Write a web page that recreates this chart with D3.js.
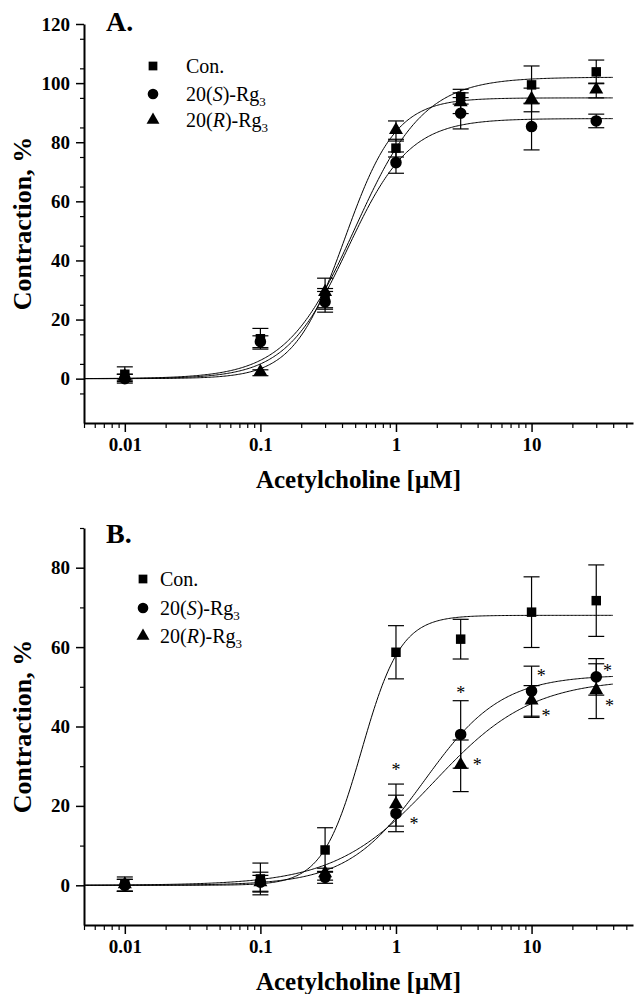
<!DOCTYPE html>
<html>
<head>
<meta charset="utf-8">
<script src="https://cdn.jsdelivr.net/npm/d3@7"></script>
<style>
  body { margin: 0; background: #fff; }
  svg { display: block; }
</style>
</head>
<body>
<svg id="chart" width="635" height="994" font-family="Liberation Serif"></svg>
<script>
"use strict";

var FONT = "Liberation Serif";

// doses, uM
var doses = [0.01, 0.1, 0.3, 1, 3, 10, 30];
var xTickValues = [0.01, 0.1, 1, 10];
var xTickLabels = ["0.01", "0.1", "1", "10"];

// panel A
var conA    = [1.5, 13.5, 27, 78, 95.4, 99.4, 103.8];
var conAErr = [2.5, 3.5, 3.5, 3, 2.5, 6.4, 4];
var sA      = [0, 12.5, 26, 73.1, 89.8, 85.3, 87.2];
var sAErr   = [1.5, 2, 3.5, 3.6, 5.3, 7.9, 2.3];
var rA      = [0.5, 2, 29, 83.8, 93.2, 94.3, 97.5];
var rAErr   = [1, 1, 5, 3.4, 3.5, 4, 2.5];
// fitted curves: [top, EC50, hill]
var conAFit = [102, 0.50, 1.7];
var sAFit   = [88, 0.44, 1.9];
var rAFit   = [95, 0.42, 2.3];
var yTicksA = [0, 20, 40, 60, 80, 100, 120];

// panel B
var conB    = [0.3, 1.6, 8.9, 58.7, 62, 68.8, 71.7];
var conBErr = [1.8, 4, 5.6, 6.7, 5, 8.9, 9];
var sB      = [0, 0.8, 2, 18.1, 38, 48.9, 52.5];
var sBErr   = [1.5, 2.5, 1.5, 4.6, 8.5, 6.3, 4.6];
var rB      = [0, 0.5, 2.8, 20.2, 30.1, 46.3, 48.9];
var rBErr   = [1.5, 2, 1.5, 5.3, 6.5, 4, 6.9];
var conBFit = [68, 0.558, 3.0];
var sBFit   = [53, 1.63, 1.53];
var rBFit   = [52, 1.9, 1.2];
var yTicksB = [0, 20, 40, 60, 80];
// significance marks (*), in data units
var sigX = [1, 1.36, 3, 3.97, 11.8, 12.8, 36.3, 37.5];
var sigY = [29.8, 16.2, 49.2, 31, 53.4, 43.4, 54.7, 46];

var svg = d3.select("#chart");

var x = d3.scaleLog().domain([0.005, 56]).range([84, 633]);

var minorX = [];
[0.001, 0.01, 0.1, 1, 10].forEach(function(dec) {
  for (var k = 2; k <= 9; k++) {
    var v = +(dec * k).toPrecision(3);
    if (v >= 0.005 && v <= 56) minorX.push(v);
  }
});

function hill(p) {
  return function(c) { return p[0] / (1 + Math.pow(p[1] / c, p[2])); };
}

function drawPanel(opt) {
  var y = d3.scaleLinear().domain(opt.yDomain).range([opt.bottom, opt.top]);
  var g = svg.append("g");

  // minor ticks
  g.append("g")
    .attr("transform", "translate(0," + opt.bottom + ")")
    .call(d3.axisBottom(x).tickValues(minorX).tickSize(5).tickSizeOuter(0).tickFormat(""))
    .call(function(a) { a.select(".domain").remove(); a.selectAll("line").attr("stroke-width", 1.2); });

  var minorY = d3.range(opt.yDomain[0], opt.yDomain[1] + 1, 10).filter(function(v) {
    return opt.yTicks.indexOf(v) < 0 && v > opt.yDomain[0];
  });
  g.append("g")
    .attr("transform", "translate(84,0)")
    .call(d3.axisLeft(y).tickValues(minorY).tickSize(4).tickSizeOuter(0).tickFormat(""))
    .call(function(a) { a.select(".domain").remove(); a.selectAll("line").attr("stroke-width", 1.2); });

  // major axes
  var xa = g.append("g")
    .attr("transform", "translate(0," + opt.bottom + ")")
    .call(d3.axisBottom(x).tickValues(xTickValues).tickSize(9).tickSizeOuter(0).tickPadding(6)
      .tickFormat(function(d, i) { return xTickLabels[i]; }));
  xa.attr("font-family", FONT);
  xa.select(".domain").attr("stroke-width", 2);
  xa.selectAll("line").attr("stroke-width", 1.5);
  xa.selectAll("text").attr("font-size", 19).attr("font-weight", "bold").attr("font-family", FONT);

  var ya = g.append("g")
    .attr("transform", "translate(84,0)")
    .call(d3.axisLeft(y).tickValues(opt.yTicks).tickSize(8).tickSizeOuter(0).tickPadding(6));
  ya.attr("font-family", FONT);
  ya.select(".domain").attr("stroke-width", 2);
  ya.selectAll("line").attr("stroke-width", 1.5);
  ya.selectAll("text").attr("font-size", 19).attr("font-weight", "bold").attr("font-family", FONT);

  // axis titles
  g.append("text")
    .attr("x", 358.5).attr("y", opt.bottom + 65)
    .attr("text-anchor", "middle")
    .attr("font-family", FONT)
    .attr("font-size", 25).attr("font-weight", "bold")
    .text("Acetylcholine [\u03bcM]");
  g.append("text")
    .attr("transform", "translate(31," + ((opt.top + opt.bottom) / 2) + ") rotate(-90)")
    .attr("text-anchor", "middle")
    .attr("font-family", FONT)
    .attr("font-size", 26).attr("font-weight", "bold")
    .text("Contraction, %");

  g.append("text")
    .attr("x", 106).attr("y", opt.top + opt.letterDy)
    .attr("font-family", FONT)
    .attr("font-size", 28).attr("font-weight", "bold")
    .text(opt.letter);

  // fitted curves
  var cs = d3.range(Math.log10(0.005), Math.log10(40), 0.01).map(function(v) { return Math.pow(10, v); });
  var line = d3.line().x(function(d) { return x(d[0]); }).y(function(d) { return y(d[1]); });
  opt.series.forEach(function(s) {
    var f = hill(s.fit);
    g.append("path")
      .attr("d", line(cs.map(function(c) { return [c, f(c)]; })))
      .attr("fill", "none").attr("stroke", "#000").attr("stroke-width", 1);
  });

  // error bars
  opt.series.forEach(function(s) {
    var eb = g.append("g").attr("stroke", "#000").attr("stroke-width", 1.2);
    doses.forEach(function(d, i) {
      var cx = x(d), lo = y(s.vals[i] - s.err[i]), hi = y(s.vals[i] + s.err[i]);
      eb.append("line").attr("x1", cx).attr("x2", cx).attr("y1", lo).attr("y2", hi);
      eb.append("line").attr("x1", cx - 8).attr("x2", cx + 8).attr("y1", lo).attr("y2", lo);
      eb.append("line").attr("x1", cx - 8).attr("x2", cx + 8).attr("y1", hi).attr("y2", hi);
    });
  });

  // markers
  opt.series.forEach(function(s) {
    g.selectAll(null)
      .data(doses)
      .enter()
      .append("path")
      .attr("d", d3.symbol().type(s.sym).size(s.size))
      .attr("transform", function(d, i) {
        var dy = s.sym === d3.symbolTriangle ? -1 : 0;
        return "translate(" + x(d) + "," + (y(s.vals[i]) + dy) + ")";
      })
      .attr("fill", "#000");
  });

  // legend
  opt.series.forEach(function(s, i) {
    var by = opt.legendY[i];
    g.append("path")
      .attr("d", d3.symbol().type(s.sym).size(s.size * 0.85))
      .attr("transform", "translate(" + opt.legendX + "," + (by - 7) + ")")
      .attr("fill", "#000");
    var t = g.append("text")
      .attr("x", opt.legendTextX).attr("y", by)
      .attr("font-family", FONT)
      .attr("font-size", 20);
    if (i === 0) {
      t.text("Con.");
    } else {
      t.append("tspan").text("20(");
      t.append("tspan").attr("font-style", "italic").text(i === 1 ? "S" : "R");
      t.append("tspan").text(")-Rg");
      t.append("tspan").attr("font-size", 13).attr("dy", 5).text("3");
    }
  });

  // significance marks
  if (opt.sigX) {
    opt.sigX.forEach(function(d, i) {
      g.append("text")
        .attr("x", x(d)).attr("y", y(opt.sigY[i]) + 9)
        .attr("text-anchor", "middle")
        .attr("font-family", FONT)
        .attr("font-size", 18)
        .text("*");
    });
  }
}

drawPanel({
  top: 24, bottom: 423, yDomain: [-15, 120], yTicks: yTicksA,
  letter: "A.", letterDy: 7,
  legendX: 153, legendTextX: 186, legendY: [73, 101, 127],
  series: [
    { vals: conA, err: conAErr, fit: conAFit, sym: d3.symbolSquare, size: 90 },
    { vals: sA, err: sAErr, fit: sAFit, sym: d3.symbolCircle, size: 105 },
    { vals: rA, err: rAErr, fit: rAFit, sym: d3.symbolTriangle, size: 85 }
  ]
});

drawPanel({
  top: 528, bottom: 925, yDomain: [-10, 90], yTicks: yTicksB,
  letter: "B.", letterDy: 15,
  legendX: 143, legendTextX: 160, legendY: [586, 615, 643],
  sigX: sigX, sigY: sigY,
  series: [
    { vals: conB, err: conBErr, fit: conBFit, sym: d3.symbolSquare, size: 90 },
    { vals: sB, err: sBErr, fit: sBFit, sym: d3.symbolCircle, size: 105 },
    { vals: rB, err: rBErr, fit: rBFit, sym: d3.symbolTriangle, size: 85 }
  ]
});
</script>
</body>
</html>
